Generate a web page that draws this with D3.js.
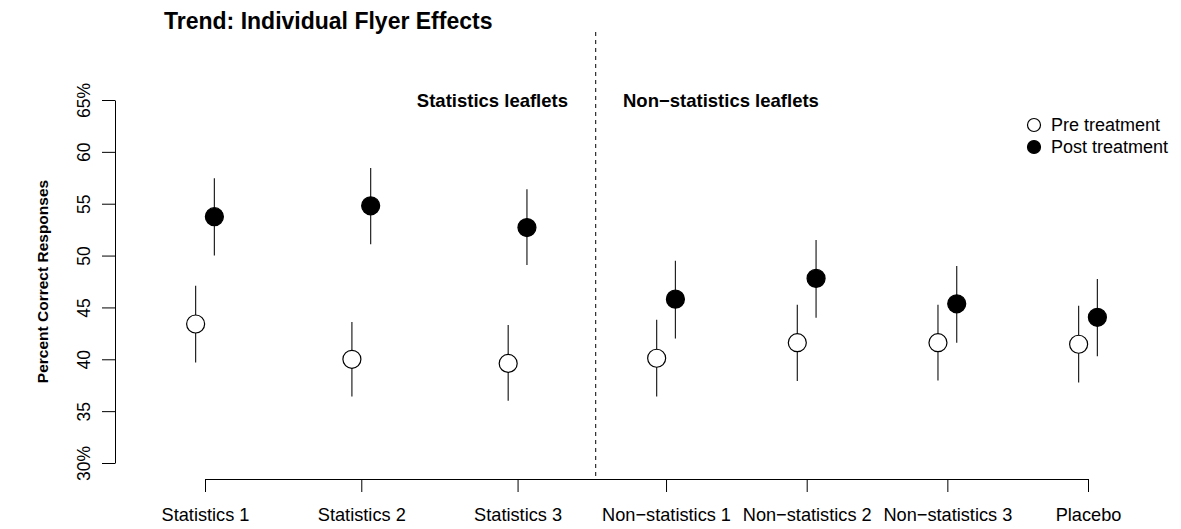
<!DOCTYPE html>
<html>
<head>
<meta charset="utf-8">
<script src="https://cdn.jsdelivr.net/npm/d3@7"></script>
<style>
  html, body { margin: 0; padding: 0; background: #fff; }
  svg { display: block; font-family: "Liberation Sans", Arial, Helvetica, sans-serif; }
</style>
</head>
<body>
<svg id="chart" width="1181" height="529"></svg>
<script>
// ---- data ----
const categories = ["Statistics 1", "Statistics 2", "Statistics 3",
  "Non\u2212statistics 1", "Non\u2212statistics 2", "Non\u2212statistics 3", "Placebo"];
const xPositions = [1, 2, 3, 3.95, 4.85, 5.75, 6.65];
const preMean  = [43.4, 40.0, 39.6, 40.1, 41.6, 41.6, 41.45];
const preLow   = [39.7, 36.4, 36.0, 36.4, 37.9, 37.95, 37.75];
const preHigh  = [47.1, 43.6, 43.3, 43.8, 45.25, 45.25, 45.15];
const postMean = [53.75, 54.8, 52.7, 45.8, 47.8, 45.35, 44.05];
const postLow  = [50.0, 51.1, 49.1, 42.0, 44.0, 41.6, 40.3];
const postHigh = [57.45, 58.45, 56.4, 49.5, 51.5, 49.0, 47.75];
const yTicks = [30, 35, 40, 45, 50, 55, 60, 65];
const yTickLabels = ["30%", "35", "40", "45", "50", "55", "60", "65%"];
const seriesNames = ["Pre treatment", "Post treatment"];
const groupLabels = ["Statistics leaflets", "Non\u2212statistics leaflets"];
const dividerPos = 3.5;
const pairOffset = 0.06;

// ---- layout ----
const svg = d3.select("#chart");
const x = d3.scaleLinear().domain([1, 6.65]).range([205, 1088]);
const y = d3.scaleLinear().domain([30, 65]).range([463, 100]);
const yAxisX = 115, xAxisY = 479;

// title
svg.append("text").attr("x", 164).attr("y", 29)
  .attr("font-size", 23).attr("font-weight", "bold").text("Trend: Individual Flyer Effects");

// y axis
const yAxis = d3.axisLeft(y).tickValues(yTicks).tickSize(13).tickSizeOuter(0)
  .tickFormat((d, i) => yTickLabels[i]);
const gy = svg.append("g").attr("transform", `translate(${yAxisX},0)`).call(yAxis);
gy.select(".domain").attr("stroke", "#000");
gy.selectAll(".tick line").attr("stroke", "#000");
gy.selectAll(".tick text")
  .attr("x", 0).attr("y", -25).attr("dy", 0)
  .attr("transform", "rotate(-90)")
  .attr("text-anchor", "middle")
  .attr("font-size", 17.5).attr("fill", "#000")
  .style("font-family", "'Liberation Sans', Arial, sans-serif");

// y label
svg.append("text")
  .attr("transform", `translate(43,${(y(30) + y(65)) / 2}) rotate(-90)`)
  .attr("text-anchor", "middle").attr("dy", "0.35em")
  .attr("font-size", 15.5).attr("font-weight", "bold")
  .text("Percent Correct Responses");

// x axis
const xAxis = d3.axisBottom(x).tickValues(xPositions).tickSize(13).tickSizeOuter(0)
  .tickFormat((d, i) => categories[i]);
const gx = svg.append("g").attr("transform", `translate(0,${xAxisY})`).call(xAxis);
gx.select(".domain").attr("stroke", "#000");
gx.selectAll(".tick line").attr("stroke", "#000");
gx.selectAll(".tick text")
  .attr("y", 42).attr("dy", 0)
  .attr("font-size", 18.2).attr("fill", "#000")
  .style("font-family", "'Liberation Sans', Arial, sans-serif");

// divider
svg.append("line")
  .attr("x1", x(dividerPos)).attr("x2", x(dividerPos))
  .attr("y1", 32).attr("y2", xAxisY)
  .attr("stroke", "#000").attr("stroke-dasharray", "4,4");

// group labels
svg.append("text").attr("x", 568).attr("y", 107).attr("text-anchor", "end")
  .attr("font-size", 18.5).attr("font-weight", "bold").text(groupLabels[0]);
svg.append("text").attr("x", 623).attr("y", 107).attr("text-anchor", "start")
  .attr("font-size", 18.5).attr("font-weight", "bold").text(groupLabels[1]);

// points
function drawSeries(mean, low, high, offset, fill) {
  const g = svg.append("g");
  const data = mean.map((m, i) => ({ pos: xPositions[i] + offset, m, lo: low[i], hi: high[i] }));
  g.selectAll("line").data(data).join("line")
    .attr("x1", d => x(d.pos)).attr("x2", d => x(d.pos))
    .attr("y1", d => y(d.lo)).attr("y2", d => y(d.hi))
    .attr("stroke", "#222").attr("stroke-width", 1.2);
  g.selectAll("circle").data(data).join("circle")
    .attr("cx", d => x(d.pos)).attr("cy", d => y(d.m)).attr("r", 9)
    .attr("fill", fill).attr("stroke", "#000").attr("stroke-width", 1.2);
}
drawSeries(preMean, preLow, preHigh, -pairOffset, "#fff");
drawSeries(postMean, postLow, postHigh, pairOffset, "#000");

// legend
const legend = svg.append("g");
seriesNames.forEach((name, i) => {
  const ly = 125 + i * 22;
  legend.append("circle").attr("cx", 1034).attr("cy", ly).attr("r", 6.5)
    .attr("fill", i === 0 ? "#fff" : "#000").attr("stroke", "#000").attr("stroke-width", 1.2);
  legend.append("text").attr("x", 1051).attr("y", ly).attr("dy", "0.35em")
    .attr("font-size", 18).text(name);
});
</script>
</body>
</html>
